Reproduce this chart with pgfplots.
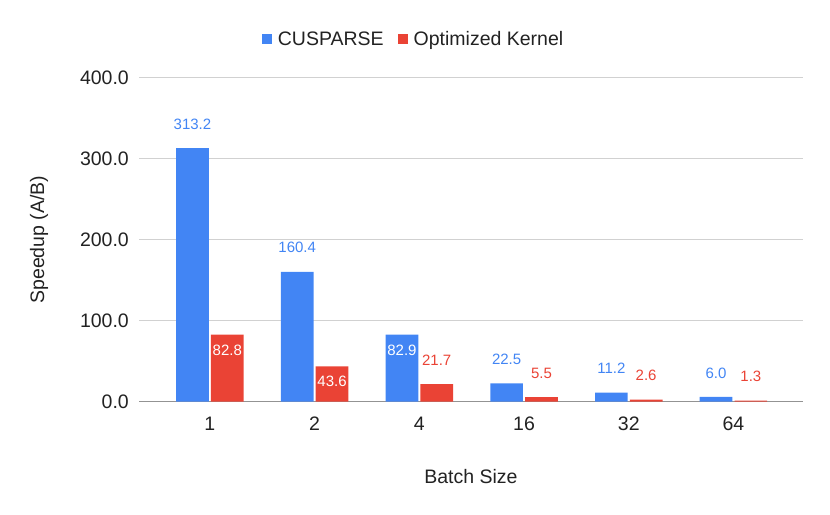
\documentclass[border=0pt]{standalone}
\usepackage{pgfplots}
\pgfplotsset{compat=1.18}
\usepackage{fontspec}
\setmainfont{Liberation Sans}
\definecolor{gblue}{HTML}{4285F4}
\definecolor{gred}{HTML}{EA4335}
\definecolor{txt}{HTML}{222222}
\pgfplotsset{
  lbl/.style={draw=none, fill=none, forget plot,
    nodes near coords={\pgfmathprintnumber[fixed,fixed zerofill,precision=1]{\pgfplotspointmeta}},
    nodes near coords align=center,
    every node near coord/.append style={font=\fontsize{15bp}{18bp}\selectfont, text=#1}},
}
\begin{document}
\begin{tikzpicture}
\useasboundingbox (0,0) rectangle (830bp,515bp);
\begin{axis}[
  at={(139bp,113.3bp)}, anchor=south west,
  scale only axis, width=664bp, height=324bp,
  ybar, bar width=32.7bp,
  xmin=-0.677, xmax=5.664, ymin=0, ymax=400,
  enlargelimits=false,
  xtick={0,1,2,3,4,5}, xticklabels={1,2,4,16,32,64},
  ytick={0,100,200,300,400},
  /pgf/number format/assume math mode=true,
  yticklabel={\pgfmathprintnumber[fixed,fixed zerofill,precision=1]{\tick}},
  tick style={draw=none}, major tick length=0pt,
  ticklabel style={font=\fontsize{19.5bp}{22bp}\selectfont, text=txt},
  yticklabel style={anchor=east, inner sep=0pt, xshift=-10bp},
  xticklabel style={anchor=north, inner sep=0pt, yshift=-15bp},
  axis x line*=bottom, axis y line*=left,
  x axis line style={draw=gray!85, line width=1.3bp, -},
  y axis line style={draw=none},
  ymajorgrids, grid style={draw=black!18, line width=0.8bp},
  xlabel={Batch Size}, ylabel={Speedup (A/B)},
  label style={font=\fontsize{19.5bp}{22bp}\selectfont, text=txt},
  xlabel style={at={(axis description cs:0.5,0)}, anchor=center, yshift=-75.3bp},
  ylabel style={at={(axis description cs:-0.1506,0.5)}, anchor=center, rotate=0},
  legend style={draw=none, fill=none, at={(0.412,1.1185)}, anchor=center,
    font=\fontsize{19.5bp}{22bp}\selectfont, text=txt,
    nodes={inner sep=0pt},
    /tikz/every odd column/.append style={column sep=6bp},
    /tikz/every even column/.append style={column sep=14bp}},
  legend columns=2,
  legend image code/.code={\fill[#1] (0bp,-5bp) rectangle (10bp,5bp);},
]
% bars
\addplot[fill=gblue, draw=none, bar shift=-17.4bp] coordinates {(0,313.2) (1,160.4) (2,82.9) (3,22.5) (4,11.2) (5,6.0)};
\addlegendentry{CUSPARSE}
\addplot[fill=gred, draw=none, bar shift=17.4bp] coordinates {(0,82.8) (1,43.6) (2,21.7) (3,5.5) (4,2.6) (5,1.3)};
\addlegendentry{Optimized Kernel}
% labels above
\addplot[lbl=gblue, bar shift=-17.4bp, every node near coord/.append style={yshift=24bp}]
  coordinates {(0,313.2) (1,160.4) (3,22.5) (4,11.2) (5,6.0)};
\addplot[lbl=gred, bar shift=17.4bp, every node near coord/.append style={yshift=24bp}]
  coordinates {(2,21.7) (3,5.5) (4,2.6) (5,1.3)};
% labels inside
\addplot[lbl=white, bar shift=-17.4bp, every node near coord/.append style={yshift=-15.3bp}]
  coordinates {(2,82.9)};
\addplot[lbl=white, bar shift=17.4bp, every node near coord/.append style={yshift=-15.3bp}]
  coordinates {(0,82.8) (1,43.6)};
\end{axis}
\end{tikzpicture}
\end{document}
